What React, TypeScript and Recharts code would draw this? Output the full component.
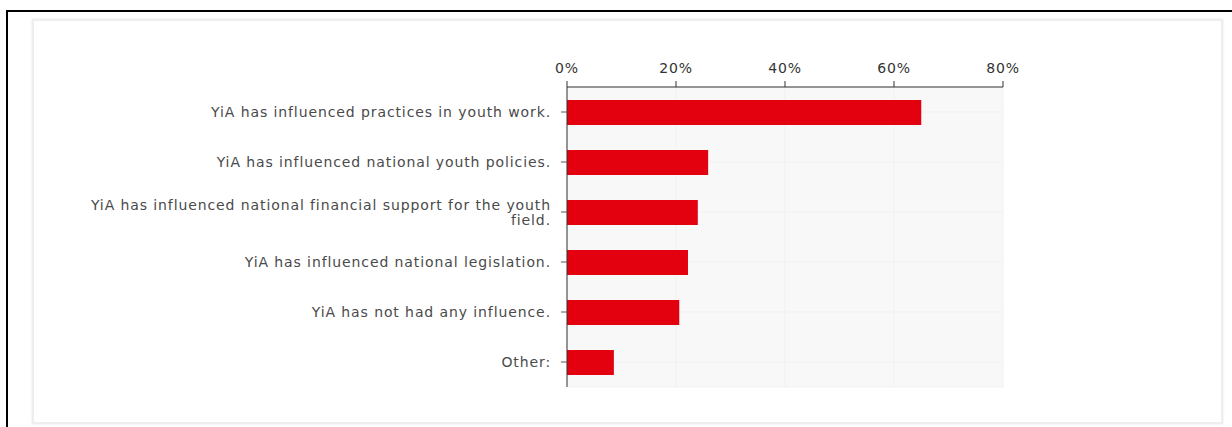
import { Bar, BarChart, CartesianGrid, XAxis, YAxis } from 'recharts';

const categories = [
    'YiA has influenced practices in youth work.',
    'YiA has influenced national youth policies.',
    'YiA has influenced national financial support for the youth field.',
    'YiA has influenced national legislation.',
    'YiA has not had any influence.',
    'Other:',
];
const shares = [65.0, 25.9, 24.0, 22.2, 20.6, 8.6];
const percentTicks = [0, 20, 40, 60, 80];

const data = categories.map((name, i) => ({ name, value: shares[i] }));

const fontFamily = 'DejaVu Sans, Verdana, sans-serif';
const MAX_CHARS = 60;
const LINE_HEIGHT = 15;

// greedy word wrap by character count
const wrapLabel = (label: string) => {
    const lines: string[] = [];
    let current = '';
    label.split(' ').forEach((word) => {
        const next = current ? `${current} ${word}` : word;
        if (next.length > MAX_CHARS && current) {
            lines.push(current);
            current = word;
        } else {
            current = next;
        }
    });
    if (current) lines.push(current);
    return lines;
};

const CategoryTick = (props: any) => {
    const { x, y, payload } = props;
    const lines = wrapLabel(String(payload.value));
    const firstDy = 5 - ((lines.length - 1) * LINE_HEIGHT) / 2;
    return (
        <text
            x={x}
            y={y}
            textAnchor="end"
            fontFamily={fontFamily}
            fontSize={14}
            letterSpacing={0.9}
            fill="#4a4a4a"
        >
            {lines.map((line, i) => (
                <tspan key={i} x={x} dy={i === 0 ? firstDy : LINE_HEIGHT}>
                    {line}
                </tspan>
            ))}
        </text>
    );
};

export default function App() {
    return (
        <div style={{ position: 'absolute', left: 0, top: 0, width: 1232, height: 427, background: '#fff', overflow: 'hidden' }}>
            {/* outer black frame (top + left) */}
            <div style={{ position: 'absolute', left: 6, top: 10, width: 1226, height: 2, background: '#000' }} />
            <div style={{ position: 'absolute', left: 6, top: 10, width: 2, height: 417, background: '#000' }} />
            {/* soft inner panel */}
            <div
                style={{
                    position: 'absolute',
                    left: 32,
                    top: 19,
                    width: 1187,
                    height: 401,
                    border: '2px solid #eeeeee',
                    boxShadow: '0 0 2px #e4e4e4',
                }}
            />
            <div style={{ position: 'absolute', left: 0, top: 0 }}>
                <BarChart
                    width={1232}
                    height={427}
                    data={data}
                    layout="vertical"
                    margin={{ top: 57, right: 229, bottom: 40, left: 0 }}
                    barSize={25}
                >
                    <CartesianGrid fill="#f8f8f8" stroke="#f1f1f1" />
                    <XAxis
                        type="number"
                        orientation="top"
                        domain={[0, 80]}
                        ticks={percentTicks}
                        tickFormatter={(v: number) => `${v}%`}
                        height={30}
                        tickSize={6}
                        tickMargin={8}
                        stroke="#333"
                        tick={{ fontFamily, fontSize: 14, letterSpacing: 0.8, fill: '#333' }}
                    />
                    <YAxis
                        type="category"
                        dataKey="name"
                        width={567}
                        tickSize={6}
                        tickMargin={10}
                        stroke="#333"
                        tickLine={{ stroke: '#555' }}
                        tick={<CategoryTick />}
                        interval={0}
                    />
                    <Bar dataKey="value" fill="#e3000f" isAnimationActive={false} />
                </BarChart>
            </div>
        </div>
    );
}
